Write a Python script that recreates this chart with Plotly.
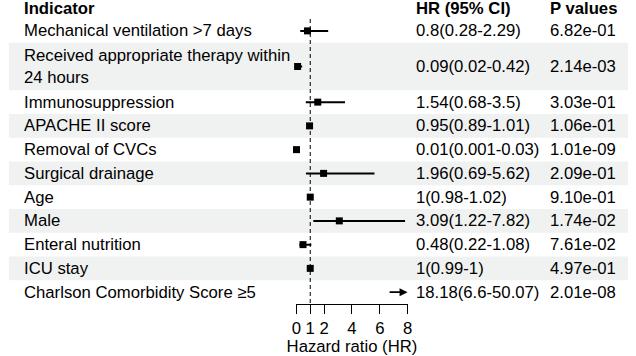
import plotly.graph_objects as go

indicators = [
    "Mechanical ventilation >7 days",
    "Received appropriate therapy within<br>24 hours",
    "Immunosuppression",
    "APACHE II score",
    "Removal of CVCs",
    "Surgical drainage",
    "Age",
    "Male",
    "Enteral nutrition",
    "ICU stay",
    "Charlson Comorbidity Score ≥5",
]
hr = [0.8, 0.09, 1.54, 0.95, 0.01, 1.96, 1, 3.09, 0.48, 1, 18.18]
lower = [0.28, 0.02, 0.68, 0.89, 0.001, 0.69, 0.98, 1.22, 0.22, 0.99, 6.6]
upper = [2.29, 0.42, 3.5, 1.01, 0.03, 5.62, 1.02, 7.82, 1.08, 1, 50.07]
hr_text = ["0.8(0.28-2.29)", "0.09(0.02-0.42)", "1.54(0.68-3.5)", "0.95(0.89-1.01)",
           "0.01(0.001-0.03)", "1.96(0.69-5.62)", "1(0.98-1.02)", "3.09(1.22-7.82)",
           "0.48(0.22-1.08)", "1(0.99-1)", "18.18(6.6-50.07)"]
p_values = ["6.82e-01", "2.14e-03", "3.03e-01", "1.06e-01", "1.01e-09", "2.09e-01",
            "9.10e-01", "1.74e-02", "7.61e-02", "4.97e-01", "2.01e-08"]
headers = ["Indicator", "HR (95% CI)", "P values"]
x_ticks = [0, 1, 2, 4, 6, 8]
x_range = [0, 8]

W, H = 636, 356
FONT = "Liberation Sans, Arial, sans-serif"
FS = 16.7
ROW_H = 23.75
BOTTOM = 304
B_MARGIN = H - BOTTOM

# row geometry (pixel-like y units, top=0)
lines = [s.count("<br>") + 1 for s in indicators]
total_units = sum(lines)
top = BOTTOM - total_units * ROW_H
centers, tops, bots = [], [], []
y = top
for n in lines:
    tops.append(y)
    bots.append(y + n * ROW_H)
    centers.append(y + n * ROW_H / 2)
    y += n * ROW_H

fig = go.Figure()

# CI lines clipped to the axis range; out-of-range upper bounds become arrows
cx, cy = [], []
arrows = []
for lo, up, c in zip(lower, upper, centers):
    lo_c = max(lo, x_range[0])
    up_c = min(up, x_range[1])
    if up > x_range[1]:
        arrows.append((lo_c, c))
        continue
    cx += [lo_c, up_c, None]
    cy += [c, c, None]
fig.add_trace(go.Scatter(x=cx, y=cy, mode="lines", line=dict(color="black", width=2),
                         cliponaxis=False, hoverinfo="skip", showlegend=False))

px_ = [v if x_range[0] <= v <= x_range[1] else None for v in hr]
fig.add_trace(go.Scatter(x=px_, y=centers, mode="markers",
                         marker=dict(symbol="square", size=7, color="black"),
                         cliponaxis=False, showlegend=False))

shapes = []
x0p, x1p = 4 / W, 633 / W
for i, (t, b) in enumerate(zip(tops, bots)):
    if i % 2 == 1:
        shapes.append(dict(type="rect", xref="paper", yref="y", x0=x0p, x1=x1p, y0=t, y1=b,
                           fillcolor="#f0f1f1", line=dict(width=0), layer="below"))
shapes.append(dict(type="line", xref="x", yref="y", x0=1, x1=1, y0=top, y1=BOTTOM,
                   line=dict(color="black", width=1, dash="4px,3px")))

ann = []
col_x = [17 / W, 416 / W, 552 / W]
for hx, htxt in zip(col_x, headers):
    ann.append(dict(x=hx, y=top / 2 - 1, xref="paper", yref="y", text="<b>%s</b>" % htxt,
                    showarrow=False, xanchor="left", yanchor="middle",
                    font=dict(family=FONT, size=FS, color="black")))
for lab, ht, pv, c in zip(indicators, hr_text, p_values, centers):
    for xx, tt in zip(col_x, [lab, ht, pv]):
        ann.append(dict(x=xx, y=c, xref="paper", yref="y", text=tt, showarrow=False,
                        xanchor="left", yanchor="middle", align="left",
                        font=dict(family=FONT, size=FS, color="black")))
for lo_c, c in arrows:
    ann.append(dict(x=x_range[1], y=c, ax=lo_c, ay=c, xref="x", yref="y", axref="x", ayref="y",
                    text="", showarrow=True, arrowhead=2, arrowsize=1, arrowwidth=1.6,
                    arrowcolor="black"))

fig.update_layout(
    width=W, height=H, margin=dict(l=0, r=0, t=0, b=B_MARGIN),
    paper_bgcolor="white", plot_bgcolor="rgba(0,0,0,0)",
    shapes=shapes, annotations=ann,
    xaxis=dict(domain=[296 / W, 409 / W], range=x_range, tickvals=x_ticks,
               ticktext=[str(t) for t in x_ticks], ticks="outside", ticklen=9,
               tickcolor="black", showline=True, linecolor="black", linewidth=1,
               showgrid=False, zeroline=False,
               tickfont=dict(family=FONT, size=FS, color="black"),
               title=dict(text="Hazard ratio (HR)", standoff=5,
                          font=dict(family=FONT, size=FS, color="black"))),
    yaxis=dict(range=[BOTTOM, 0], visible=False, showgrid=False, zeroline=False),
    showlegend=False,
)
fig.write_html("out.html", config={"displayModeBar": False},
               post_script="document.body.style.margin='0';")
